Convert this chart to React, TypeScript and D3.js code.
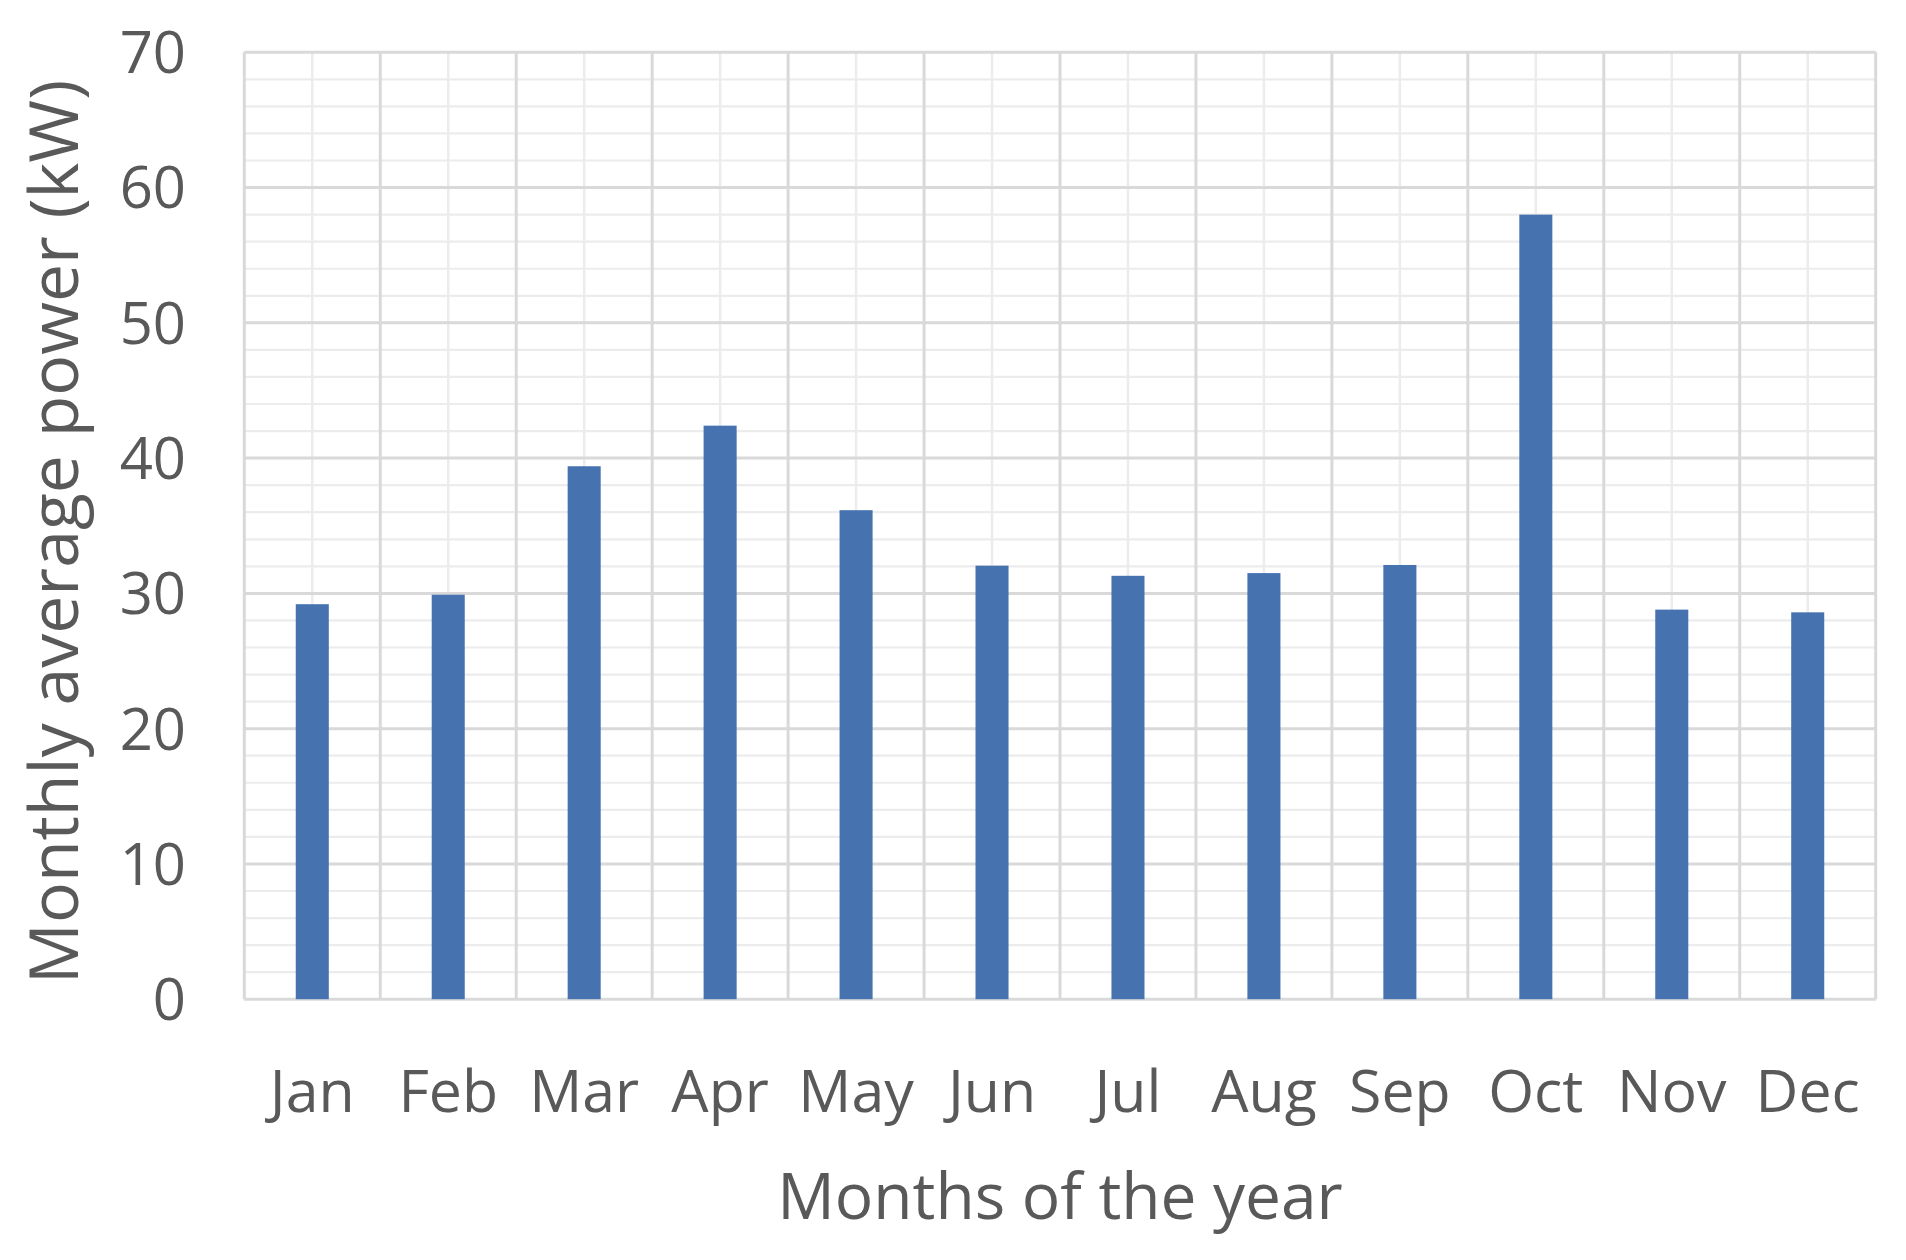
import React from "react";
import * as d3 from "d3";

const months = ["Jan", "Feb", "Mar", "Apr", "May", "Jun", "Jul", "Aug", "Sep", "Oct", "Nov", "Dec"];
const powerKW = [29.2, 29.9, 39.4, 42.4, 36.15, 32.05, 31.3, 31.5, 32.1, 58.0, 28.8, 28.6];
const yMajorTicks = [0, 10, 20, 30, 40, 50, 60, 70];
const yMinorTicks = d3.range(0, 70.001, 2);
const xTitle = "Months of the year";
const yTitle = "Monthly average power (kW)";

const W = 1906;
const H = 1260;
const M = { left: 244.3, right: 1875.7, top: 52.3, bottom: 999.2 };

export default function App() {
  const x = d3
    .scaleBand<string>()
    .domain(months)
    .range([M.left, M.right])
    .paddingInner(0.757)
    .paddingOuter(0.757 / 2);
  const y = d3.scaleLinear().domain([0, 70]).range([M.bottom, M.top]);
  const step = x.step();
  const cat = d3.scaleBand<string>().domain(months).range([M.left, M.right]);
  const textColor = "#595959";
  const font = "'Open Sans', sans-serif";

  return (
    <svg
      width={W}
      height={H}
      style={{ position: "absolute", left: 0, top: 0, background: "#fff" }}
      fontFamily={font}
    >
      <rect x={0} y={0} width={W} height={H} fill="#fff" />
      {/* minor horizontal grid */}
      {yMinorTicks
        .filter((t) => t % 10 !== 0)
        .map((t) => (
          <line key={"mh" + t} x1={M.left} x2={M.right} y1={y(t)} y2={y(t)} stroke="#ececec" strokeWidth={2.2} />
        ))}
      {/* minor vertical grid at category centers */}
      {months.map((m) => {
        const cx = (cat(m) as number) + cat.bandwidth() / 2;
        return <line key={"mv" + m} x1={cx} x2={cx} y1={M.top} y2={M.bottom} stroke="#ececec" strokeWidth={2.5} />;
      })}
      {/* major horizontal grid */}
      {yMajorTicks.map((t) => (
        <line key={"h" + t} x1={M.left} x2={M.right} y1={y(t)} y2={y(t)} stroke="#d9d9d9" strokeWidth={3} />
      ))}
      {/* major vertical grid at category boundaries */}
      {months.concat(["end"]).map((m, i) => {
        const bx = M.left + i * step;
        return <line key={"v" + m} x1={bx} x2={bx} y1={M.top} y2={M.bottom} stroke="#d9d9d9" strokeWidth={3} />;
      })}
      {/* bars */}
      {months.map((m, i) => (
        <rect
          key={"b" + m}
          x={x(m)}
          y={y(powerKW[i])}
          width={x.bandwidth()}
          height={y(0) - y(powerKW[i])}
          fill="#4672b0"
        />
      ))}
      {/* y tick labels */}
      {yMajorTicks.map((t) => (
        <text key={"yt" + t} x={186} y={y(t)} dy="0.36em" textAnchor="end" fontSize={58} fill={textColor}>
          {t}
        </text>
      ))}
      {/* x tick labels */}
      {months.map((m) => (
        <text
          key={"xt" + m}
          x={(cat(m) as number) + cat.bandwidth() / 2}
          y={1112}
          textAnchor="middle"
          fontSize={59}
          fill={textColor}
        >
          {m}
        </text>
      ))}
      <text x={(M.left + M.right) / 2} y={1219} textAnchor="middle" fontSize={64} fill={textColor}>
        {xTitle}
      </text>
      <text
        transform={`translate(78, ${532}) rotate(-90)`}
        textAnchor="middle"
        fontSize={68}
        fill={textColor}
      >
        {yTitle}
      </text>
    </svg>
  );
}
